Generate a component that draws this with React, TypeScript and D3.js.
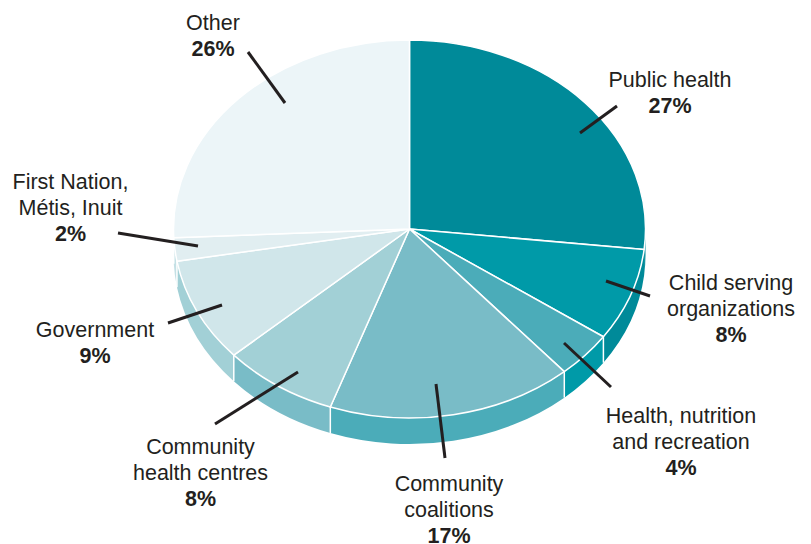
import React from "react";
import * as d3 from "d3";

const W = 811;
const H = 544;

// Slices clockwise from twelve o'clock.
const categories = [
  "Public health",
  "Child serving organizations",
  "Health, nutrition and recreation",
  "Community coalitions",
  "Community health centres",
  "Government",
  "First Nation, Métis, Inuit",
  "Other",
];
const shares = [27, 8, 4, 17, 8, 9, 2, 26];
const topColors = ["#008a99", "#009aa8", "#4bacb9", "#79bcc7", "#a2d0d6", "#d0e6ea", "#e1eef1", "#ecf5f8"];
const sideColors = ["#008a99", "#008a99", "#009aa8", "#4bacb9", "#79bcc7", "#a2d0d6", "#c4e0e5", "#d0e6ea"];

const labelLines = [
  ["Public health"],
  ["Child serving", "organizations"],
  ["Health, nutrition", "and recreation"],
  ["Community", "coalitions"],
  ["Community", "health centres"],
  ["Government"],
  ["First Nation,", "Métis, Inuit"],
  ["Other"],
];
// Label anchor: centre x and baseline of the first line.
const labelX = [670, 731, 681, 449, 200.5, 95, 70.5, 213];
const labelY = [87, 290, 423, 490.5, 454, 337, 189, 30];
// Leader line ends: [outer x, outer y, inner x, inner y].
const leaders = [
  [617, 106, 580, 133],
  [650, 296, 606, 281],
  [611, 387, 564, 343],
  [445, 458, 436, 384],
  [215, 424, 298, 372],
  [168, 323, 222, 305],
  [118, 233, 198, 246],
  [248, 52, 285, 103],
];

const cx = 409.5;
const cy = 229;
const rx = 236;
const ry = 189;
const depth = 26;
const lineStep = 26;

const px = (a: number) => cx + rx * Math.sin(a);
const py = (a: number) => cy - ry * Math.cos(a);
const fmt = d3.format(".2f");

function ellipseArc(a0: number, a1: number, dy = 0, reverse = false) {
  const large = Math.abs(a1 - a0) > Math.PI ? 1 : 0;
  const to = reverse ? a0 : a1;
  return `A${rx},${ry} 0 ${large} ${reverse ? 0 : 1} ${fmt(px(to))},${fmt(py(to) + dy)}`;
}

export default function App() {
  const slices = d3.pie<number>().sort(null)(shares);
  const frontStart = Math.PI / 2;
  const frontEnd = (3 * Math.PI) / 2;

  const sides = slices
    .map((s, i) => {
      const a0 = Math.max(s.startAngle, frontStart);
      const a1 = Math.min(s.endAngle, frontEnd);
      if (a1 <= a0) return null;
      const d =
        `M${fmt(px(a0))},${fmt(py(a0))}` +
        ellipseArc(a0, a1) +
        `L${fmt(px(a1))},${fmt(py(a1) + depth)}` +
        ellipseArc(a0, a1, depth, true) +
        "Z";
      return { i, d, a1 };
    })
    .filter(Boolean) as { i: number; d: string; a1: number }[];

  return (
    <svg
      width={W}
      height={H}
      viewBox={`0 0 ${W} ${H}`}
      style={{ position: "absolute", left: 0, top: 0, background: "#fff" }}
      fontFamily="'Liberation Sans', Arial, sans-serif"
    >
      {/* Rim of the disc, front half only */}
      {sides.map(({ i, d }) => (
        <path key={i} d={d} fill={sideColors[i]} />
      ))}
      {sides.map(({ i, a1 }) =>
        a1 < frontEnd && i > 0 ? (
          <line
            key={i}
            x1={px(a1)}
            y1={py(a1)}
            x2={px(a1)}
            y2={py(a1) + depth}
            stroke="#fff"
            strokeWidth={1.5}
          />
        ) : null
      )}

      {/* Top face */}
      {slices.map((s, i) => (
        <path
          key={categories[i]}
          d={`M${cx},${cy}L${fmt(px(s.startAngle))},${fmt(py(s.startAngle))}` + ellipseArc(s.startAngle, s.endAngle) + "Z"}
          fill={topColors[i]}
          stroke="#fff"
          strokeWidth={1.5}
          strokeLinejoin="round"
        />
      ))}

      {/* Leader lines */}
      {leaders.map((l, i) => (
        <line key={i} x1={l[0]} y1={l[1]} x2={l[2]} y2={l[3]} stroke="#231f20" strokeWidth={3} />
      ))}

      {/* Labels */}
      {labelLines.map((lines, i) => (
        <text key={i} textAnchor="middle" fontSize={21.5} fill="#231f20">
          {lines.map((t, j) => (
            <tspan key={j} x={labelX[i]} y={labelY[i] + j * lineStep}>
              {t}
            </tspan>
          ))}
          <tspan x={labelX[i]} y={labelY[i] + lines.length * lineStep} fontWeight="bold">
            {shares[i]}%
          </tspan>
        </text>
      ))}
    </svg>
  );
}
